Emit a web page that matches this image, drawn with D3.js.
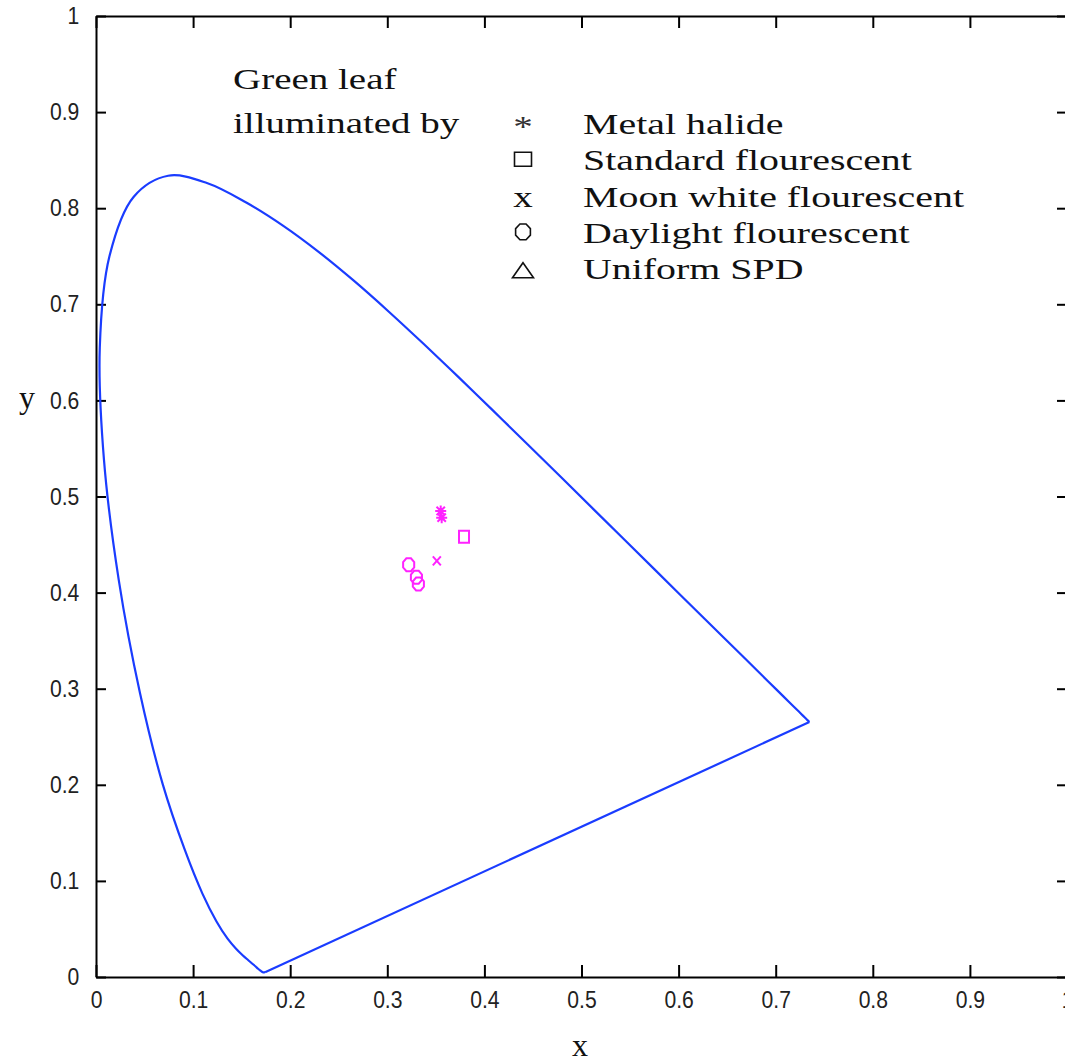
<!DOCTYPE html>
<html>
<head>
<meta charset="utf-8">
<script src="https://cdn.jsdelivr.net/npm/d3@7"></script>
<style>
html,body{margin:0;padding:0;background:#fff;}
svg{display:block;}
</style>
</head>
<body>
<svg id="chart" width="1065" height="1064"></svg>
<script>
// CIE 1931 spectral locus (x, y), 380–700 nm in 5 nm steps
const locusX = [0.1741,0.1740,0.1738,0.1736,0.1733,0.1730,0.1726,0.1721,0.1714,0.1703,0.1689,0.1669,0.1644,0.1611,0.1566,0.1510,0.1440,0.1355,0.1241,0.1096,0.0913,0.0687,0.0454,0.0235,0.0082,0.0039,0.0139,0.0389,0.0743,0.1142,0.1547,0.1929,0.2296,0.2658,0.3016,0.3373,0.3731,0.4087,0.4441,0.4788,0.5125,0.5448,0.5752,0.6029,0.6270,0.6482,0.6658,0.6801,0.6915,0.7006,0.7079,0.7140,0.7190,0.7230,0.7260,0.7283,0.7300,0.7311,0.7320,0.7327,0.7334,0.7340,0.7344,0.7346,0.7347];
const locusY = [0.0050,0.0050,0.0049,0.0049,0.0048,0.0048,0.0048,0.0048,0.0051,0.0058,0.0069,0.0086,0.0109,0.0138,0.0177,0.0227,0.0297,0.0399,0.0578,0.0868,0.1327,0.2007,0.2950,0.4127,0.5384,0.6548,0.7502,0.8120,0.8338,0.8262,0.8059,0.7816,0.7543,0.7243,0.6923,0.6589,0.6245,0.5896,0.5547,0.5202,0.4866,0.4544,0.4242,0.3965,0.3725,0.3514,0.3340,0.3197,0.3083,0.2993,0.2920,0.2859,0.2809,0.2770,0.2740,0.2717,0.2700,0.2689,0.2680,0.2673,0.2666,0.2660,0.2656,0.2654,0.2653];

// Leaf chromaticities under each illuminant
const seriesNames = ["Metal halide","Standard flourescent","Moon white flourescent","Daylight flourescent","Uniform SPD"];
const seriesMarkers = ["asterisk","square","x","circle","triangle"];
const metalX = [0.355, 0.356];
const metalY = [0.485, 0.478];
const standardX = [0.379];
const standardY = [0.458];
const moonX = [0.351];
const moonY = [0.433];
const daylightX = [0.322, 0.330, 0.332];
const daylightY = [0.429, 0.416, 0.409];
const uniformX = [];
const uniformY = [];

const xTicks = [0,0.1,0.2,0.3,0.4,0.5,0.6,0.7,0.8,0.9,1];
const yTicks = [0,0.1,0.2,0.3,0.4,0.5,0.6,0.7,0.8,0.9,1];
const titleLines = ["Green leaf","illuminated by"];

const svg = d3.select("#chart");
const x = d3.scaleLinear().domain([0,1]).range([96,1067]);
const y = d3.scaleLinear().domain([0,1]).range([977,16]);

const fmt = d => d === 0 ? "0" : d === 1 ? "1" : d3.format(".1f")(d);

function styleAxis(g){
  g.select(".domain").attr("stroke","#000").attr("stroke-width",2);
  g.selectAll(".tick line").attr("stroke","#000").attr("stroke-width",2);
  g.selectAll(".tick text").attr("fill","#222")
    .attr("font-family","'Liberation Sans', Arial, sans-serif")
    .attr("font-size",24).attr("transform","scale(0.88,1)");
}

// bottom
svg.append("g").attr("transform",`translate(0,${y(0)})`)
  .call(d3.axisBottom(x).tickValues(xTicks).tickFormat(fmt).tickSizeInner(-12).tickSizeOuter(0).tickPadding(14))
  .call(styleAxis);
// top
svg.append("g").attr("transform",`translate(0,${y(1)})`)
  .call(d3.axisTop(x).tickValues(xTicks).tickFormat("").tickSizeInner(-12).tickSizeOuter(0))
  .call(styleAxis);
// left
svg.append("g").attr("transform",`translate(${x(0)},0)`)
  .call(d3.axisLeft(y).tickValues(yTicks).tickFormat(fmt).tickSizeInner(-10).tickSizeOuter(0).tickPadding(19))
  .call(styleAxis);
// right
svg.append("g").attr("transform",`translate(${x(1)},0)`)
  .call(d3.axisRight(y).tickValues(yTicks).tickFormat("").tickSizeInner(-10).tickSizeOuter(0))
  .call(styleAxis);

// spectral locus (smooth) plus the straight purple line closing it
const locus = locusX.map((v,i)=>[v,locusY[i]]);
const blue = "#1a3cff";
svg.append("path")
  .datum(locus)
  .attr("d", d3.line().x(d=>x(d[0])).y(d=>y(d[1])).curve(d3.curveCatmullRom.alpha(0.5)))
  .attr("fill","none").attr("stroke",blue).attr("stroke-width",2.2).attr("stroke-linejoin","round");
svg.append("path")
  .datum([locus[locus.length-1], locus[0]])
  .attr("d", d3.line().x(d=>x(d[0])).y(d=>y(d[1])))
  .attr("fill","none").attr("stroke",blue).attr("stroke-width",2.2);

// marker drawing
function markerPath(type, sx, sy){
  const p = d3.path();
  if(type==="square"){
    p.rect(-sx/2,-sy/2,sx,sy);
  } else if(type==="circle"){
    const n=8;
    for(let i=0;i<n;i++){
      const a = Math.PI*2*i/n + Math.PI/8;
      const px = Math.cos(a)*sx/2, py = Math.sin(a)*sy/2;
      if(i===0) p.moveTo(px,py); else p.lineTo(px,py);
    }
    p.closePath();
  } else if(type==="triangle"){
    p.moveTo(0,-sy/2); p.lineTo(sx/2,sy/2); p.lineTo(-sx/2,sy/2); p.closePath();
  } else if(type==="x"){
    p.moveTo(-sx/2,-sy/2); p.lineTo(sx/2,sy/2);
    p.moveTo(sx/2,-sy/2); p.lineTo(-sx/2,sy/2);
  } else if(type==="asterisk"){
    p.moveTo(0,-sy/2); p.lineTo(0,sy/2);
    p.moveTo(-sx/2,0); p.lineTo(sx/2,0);
    p.moveTo(-sx*0.38,-sy*0.38); p.lineTo(sx*0.38,sy*0.38);
    p.moveTo(sx*0.38,-sy*0.38); p.lineTo(-sx*0.38,sy*0.38);
  }
  return p.toString();
}

const seriesData = [
  {m:"asterisk", xs:metalX, ys:metalY, sx:11, sy:11},
  {m:"square", xs:standardX, ys:standardY, sx:10, sy:12},
  {m:"x", xs:moonX, ys:moonY, sx:8, sy:9},
  {m:"circle", xs:daylightX, ys:daylightY, sx:12, sy:14},
  {m:"triangle", xs:uniformX, ys:uniformY, sx:12, sy:11}
];
const pts = svg.append("g");
seriesData.forEach(s=>{
  s.xs.forEach((vx,i)=>{
    pts.append("path")
      .attr("transform",`translate(${x(vx)},${y(s.ys[i])})`)
      .attr("d", markerPath(s.m, s.sx, s.sy))
      .attr("fill","none").attr("stroke","#ff22ff").attr("stroke-width",2);
  });
});

// legend
const serif = "'Liberation Serif','Times New Roman',serif";
titleLines.forEach((t,i)=>{
  svg.append("text")
    .attr("transform",`translate(233,${89+44*i}) scale(1.3,1)`)
    .attr("font-family",serif).attr("font-size",30).attr("fill","#111")
    .text(t);
});
const legendY0 = 134, legendDy = 36.3;
seriesNames.forEach((name,i)=>{
  const by = legendY0 + legendDy*i;
  svg.append("text")
    .attr("transform",`translate(583,${by}) scale(1.33,1)`)
    .attr("font-family",serif).attr("font-size",30).attr("fill","#111")
    .text(name);
  const m = seriesMarkers[i];
  const cy = by - 12;
  if(m==="asterisk"){
    svg.append("text")
      .attr("transform",`translate(523,${by+2}) scale(1.3,1)`)
      .attr("text-anchor","middle")
      .attr("font-family",serif).attr("font-size",30).attr("fill","#333")
      .text("*");
  } else if(m==="x"){
    svg.append("text")
      .attr("transform",`translate(523,${by}) scale(1.3,1)`)
      .attr("text-anchor","middle")
      .attr("font-family",serif).attr("font-size",30).attr("fill","#111")
      .text("x");
  } else {
    const sz = m==="square" ? [17,14] : m==="circle" ? [16,17] : [21,15];
    svg.append("path")
      .attr("transform",`translate(523,${m==="triangle"?cy+3:cy+1})`)
      .attr("d", markerPath(m, sz[0], sz[1]))
      .attr("fill","none").attr("stroke","#111").attr("stroke-width",1.6);
  }
});

// axis labels
svg.append("text").attr("x",580).attr("y",1056).attr("text-anchor","middle")
  .attr("font-family",serif).attr("font-size",32).attr("fill","#111").text("x");
svg.append("text").attr("x",27).attr("y",408).attr("text-anchor","middle")
  .attr("font-family",serif).attr("font-size",32).attr("fill","#111").text("y");
</script>
</body>
</html>
